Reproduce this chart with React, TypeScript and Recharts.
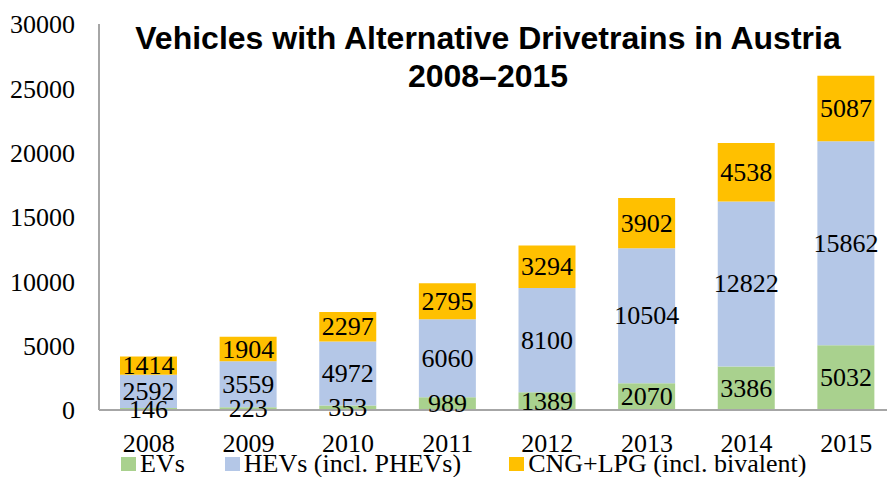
import React from "react";
import { BarChart, Bar, XAxis, YAxis, LabelList } from "recharts";

const years = ["2008", "2009", "2010", "2011", "2012", "2013", "2014", "2015"];
const evs = [146, 223, 353, 989, 1389, 2070, 3386, 5032];
const hevs = [2592, 3559, 4972, 6060, 8100, 10504, 12822, 15862];
const cngLpg = [1414, 1904, 2297, 2795, 3294, 3902, 4538, 5087];
const yTicks = [0, 5000, 10000, 15000, 20000, 25000, 30000];

const seriesNames = ["EVs", "HEVs (incl. PHEVs)", "CNG+LPG (incl. bivalent)"];
const seriesColors = ["#A9D18E", "#B4C7E7", "#FFC000"];

const data = years.map((year, i) => ({
  year,
  evs: evs[i],
  hevs: hevs[i],
  cng: cngLpg[i],
}));

const serif = "'Liberation Serif', 'Times New Roman', serif";
const sans = "'Liberation Sans', Arial, sans-serif";
const axisGray = "#A6A6A6";

// gap after each legend item
const legendGaps = [40, 48, 0];

// value label centred in its segment, Times-like like the rest of the chart
const renderValue = (props: any) => {
  const { x, y, width, height, value } = props;
  return (
    <text
      x={Number(x) + Number(width) / 2}
      y={Number(y) + Number(height) / 2}
      textAnchor="middle"
      dominantBaseline="central"
      fill="#000"
      style={{ fontFamily: serif, fontSize: 26 }}
    >
      {value}
    </text>
  );
};

export default function App() {
  return (
    <div
      style={{
        position: "absolute",
        left: 0,
        top: 0,
        width: 887,
        height: 477,
        overflow: "hidden",
        background: "#fff",
      }}
    >
      <BarChart
        width={896}
        height={477}
        data={data}
        margin={{ top: 24, right: 0, left: 0, bottom: 27 }}
        barSize={57}
      >
        <XAxis
          dataKey="year"
          height={40}
          tickLine={false}
          tickMargin={18}
          axisLine={{ stroke: axisGray, strokeWidth: 2 }}
          tick={{ fontSize: 26, fill: "#000", fontFamily: serif }}
        />
        <YAxis
          width={99}
          domain={[0, 30000]}
          ticks={yTicks}
          tickLine={false}
          tickMargin={18}
          axisLine={{ stroke: axisGray, strokeWidth: 2 }}
          tick={{ fontSize: 26, fill: "#000", fontFamily: serif }}
        />
        <Bar dataKey="evs" stackId="a" fill={seriesColors[0]} isAnimationActive={false}>
          <LabelList dataKey="evs" content={renderValue} />
        </Bar>
        <Bar dataKey="hevs" stackId="a" fill={seriesColors[1]} isAnimationActive={false}>
          <LabelList dataKey="hevs" content={renderValue} />
        </Bar>
        <Bar dataKey="cng" stackId="a" fill={seriesColors[2]} isAnimationActive={false}>
          <LabelList dataKey="cng" content={renderValue} />
        </Bar>
      </BarChart>

      {/* title over the plot */}
      <div
        style={{
          position: "absolute",
          left: 88,
          width: 800,
          top: 19,
          textAlign: "center",
          fontFamily: sans,
          fontWeight: "bold",
          fontSize: 32,
          lineHeight: "38px",
          color: "#000",
        }}
      >
        Vehicles with Alternative Drivetrains in Austria
        <br />
        2008–2015
      </div>

      {/* legend */}
      <div
        style={{
          position: "absolute",
          left: 121,
          top: 452,
          display: "flex",
          alignItems: "center",
          fontFamily: serif,
          fontSize: 26,
          lineHeight: "24px",
          whiteSpace: "nowrap",
        }}
      >
        {seriesNames.map((name, i) => (
          <div
            key={name}
            style={{ display: "flex", alignItems: "center", marginRight: legendGaps[i] }}
          >
            <span
              style={{
                display: "inline-block",
                width: 15,
                height: 14,
                background: seriesColors[i],
                marginRight: 4,
              }}
            />
            <span>{name}</span>
          </div>
        ))}
      </div>
    </div>
  );
}
